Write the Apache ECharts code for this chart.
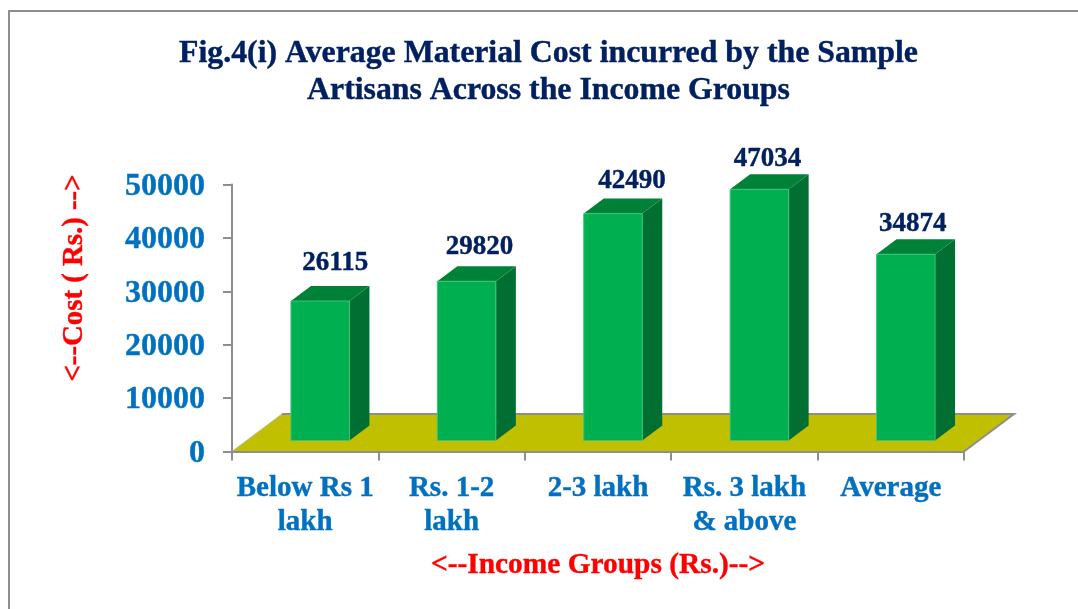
<!DOCTYPE html>
<html>
<head>
<meta charset="utf-8">
<style>html,body{margin:0;padding:0;background:#fff;overflow:hidden}#c{width:1078px;height:609px}</style>
<script src="https://cdn.jsdelivr.net/npm/echarts@6/dist/echarts.min.js"></script>
</head>
<body>
<div id="c"></div>
<script>
const categories = ['Below Rs 1\nlakh', 'Rs. 1-2\nlakh', '2-3 lakh', 'Rs. 3 lakh\n& above', 'Average'];
const costValues = [26115, 29820, 42490, 47034, 34874];
const yTicks = { min: 0, max: 50000, interval: 10000 };
const titleText = 'Fig.4(i) Average Material Cost incurred by the Sample\nArtisans Across the Income Groups';
const xAxisTitle = '<--Income Groups (Rs.)-->';
const yAxisTitle = '<--Cost ( Rs.) -->';

// 3-D look (pixels)
const depthX = 20, depthY = 15, liftX = 15, liftY = 11, barW = 58.5;
const floorDX = 50, floorDY = 37.5;
// small per-label nudges as placed in the original
const labelNudgeX = [0, -2, 4, -7, -8];
const labelNudgeY = [-2, 2, 3, 6, 6];

const chart = echarts.init(document.getElementById('c'));
const serif = '"Liberation Serif","Times New Roman",serif';
const heavy = (c, w) => ({ textBorderColor: c, textBorderWidth: w });

function renderFloor(params, api) {
  const r = params.coordSys;
  const x0 = r.x, x1 = r.x + r.width, y = r.y + r.height;
  return {
    type: 'group',
    children: [
      { type: 'polygon',
        shape: { points: [[x0, y], [x0 + floorDX, y - floorDY], [x1 + floorDX, y - floorDY], [x1, y]] },
        style: { fill: '#C0BF00', stroke: '#B8B8A0', lineWidth: 1 } },
      { type: 'polyline',
        shape: { points: [[x0 + floorDX, y - floorDY], [x1 + floorDX, y - floorDY], [x1, y]] },
        style: { fill: 'none', stroke: '#8E8E8E', lineWidth: 2 } }
    ]
  };
}

function renderBar(params, api) {
  const i = api.value(0), v = api.value(1);
  const top = api.coord([i, v]), base = api.coord([i, 0]);
  const xl = top[0] + liftX - barW / 2, xr = xl + barW;
  const yt = top[1] - liftY, yb = base[1] - liftY;
  return {
    type: 'group',
    children: [
      { type: 'polygon', shape: { points: [[xr, yt], [xr + depthX, yt - depthY], [xr + depthX, yb - depthY], [xr, yb]] },
        style: { fill: '#006F31' } },
      { type: 'polygon', shape: { points: [[xl, yt], [xl + depthX, yt - depthY], [xr + depthX, yt - depthY], [xr, yt]] },
        style: { fill: '#008138' } },
      { type: 'rect', shape: { x: xl, y: yt, width: barW, height: yb - yt },
        style: { fill: '#00B050', stroke: '#3FC27A', lineWidth: 1 } },
      { type: 'text', style: {
          text: String(v), x: (xl + xr) / 2 + 15 + labelNudgeX[i], y: yt - depthY - 21 + labelNudgeY[i],
          align: 'center', verticalAlign: 'middle',
          font: 'bold 27px ' + serif, fill: '#002060', stroke: '#002060', lineWidth: 0.4 } }
    ]
  };
}

chart.setOption({
  animation: false,
  backgroundColor: '#fff',
  title: {
    text: titleText, left: 543.5, top: 30, textAlign: 'center',
    textStyle: { fontFamily: serif, fontWeight: 'bold', fontSize: 31.8, lineHeight: 37, color: '#002060', ...heavy('#002060', 0.4) }
  },
  grid: { left: 232, right: 114, top: 184.5, bottom: 157.5 },
  xAxis: {
    type: 'category', data: categories, z: 5,
    name: xAxisTitle, nameLocation: 'middle', nameGap: 99,
    nameTextStyle: { fontFamily: serif, fontWeight: 'bold', fontSize: 29.4, color: '#FF0000', ...heavy('#FF0000', 0.4) },
    axisLine: { lineStyle: { color: '#8E8E8E', width: 2 } },
    axisTick: { show: true, alignWithLabel: false, length: 9, lineStyle: { color: '#8E8E8E', width: 2 } },
    axisLabel: { interval: 0, margin: 20, fontFamily: serif, fontWeight: 'bold', fontSize: 29, lineHeight: 34, color: '#0070C0', ...heavy('#0070C0', 0.4) }
  },
  yAxis: {
    type: 'value', min: yTicks.min, max: yTicks.max, interval: yTicks.interval, z: 5,
    name: yAxisTitle, nameLocation: 'middle', nameGap: 143, nameRotate: 90,
    nameTextStyle: { fontFamily: serif, fontWeight: 'bold', fontSize: 28.8, color: '#FF0000', padding: [0, 0, 0, 80], ...heavy('#FF0000', 0.4) },
    splitLine: { show: false },
    axisLine: { show: true, lineStyle: { color: '#8E8E8E', width: 2 } },
    axisTick: { show: true, length: 9, lineStyle: { color: '#8E8E8E', width: 2 } },
    axisLabel: { margin: 27, verticalAlign: 'top', lineHeight: 4, formatter: v => String(v), fontFamily: serif, fontWeight: 'bold', fontSize: 32, color: '#0070C0', ...heavy('#0070C0', 0.4) }
  },
  series: [
    { type: 'custom', name: 'floor', coordinateSystem: 'cartesian2d', z: 1, clip: false, silent: true,
      renderItem: renderFloor, data: [[0, 0]] },
    { type: 'custom', name: 'Average Material Cost', coordinateSystem: 'cartesian2d', z: 3, clip: false,
      renderItem: renderBar, encode: { x: 0, y: 1 },
      data: costValues.map((v, i) => [i, v]) }
  ],
  graphic: [{
    type: 'rect', z: -1, silent: true,
    shape: { x: 9, y: 11, width: 1200, height: 800 },
    style: { fill: 'transparent', stroke: '#8E8E8E', lineWidth: 2 }
  }]
});
</script>
</body>
</html>
